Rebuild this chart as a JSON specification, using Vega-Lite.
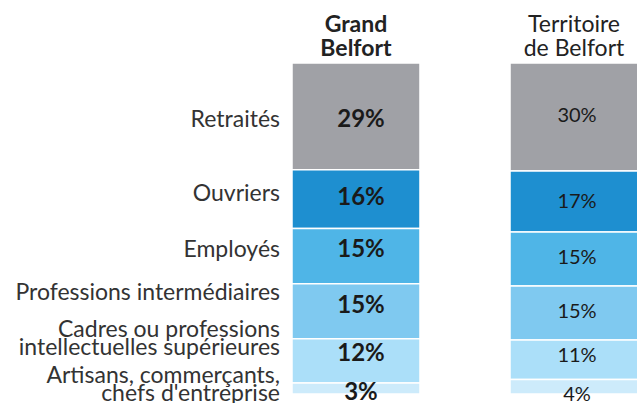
{
  "$schema": "https://vega.github.io/schema/vega-lite/v6.json",
  "width": 637,
  "height": 331,
  "autosize": {"type": "none"},
  "padding": {"left": 0, "top": 63, "right": 0, "bottom": 9},
  "background": "white",
  "config": {"view": {"stroke": null}, "font": "Lato"},
  "data": {
    "values": [
      {"zone": "Grand Belfort", "categorie": "Retraités", "ordre": 6, "valeur": 29},
      {"zone": "Grand Belfort", "categorie": "Ouvriers", "ordre": 5, "valeur": 16},
      {"zone": "Grand Belfort", "categorie": "Employés", "ordre": 4, "valeur": 15},
      {"zone": "Grand Belfort", "categorie": "Professions intermédiaires", "ordre": 3, "valeur": 15},
      {"zone": "Grand Belfort", "categorie": "Cadres ou professions\nintellectuelles supérieures", "ordre": 2, "valeur": 12},
      {"zone": "Grand Belfort", "categorie": "Artisans, commerçants,\nchefs d'entreprise", "ordre": 1, "valeur": 3},
      {"zone": "Territoire de Belfort", "categorie": "Retraités", "ordre": 6, "valeur": 30},
      {"zone": "Territoire de Belfort", "categorie": "Ouvriers", "ordre": 5, "valeur": 17},
      {"zone": "Territoire de Belfort", "categorie": "Employés", "ordre": 4, "valeur": 15},
      {"zone": "Territoire de Belfort", "categorie": "Professions intermédiaires", "ordre": 3, "valeur": 15},
      {"zone": "Territoire de Belfort", "categorie": "Cadres ou professions\nintellectuelles supérieures", "ordre": 2, "valeur": 11},
      {"zone": "Territoire de Belfort", "categorie": "Artisans, commerçants,\nchefs d'entreprise", "ordre": 1, "valeur": 4}
    ]
  },
  "transform": [
    {"stack": "valeur", "groupby": ["zone"], "sort": [{"field": "ordre", "order": "ascending"}], "as": ["v0", "v1"], "offset": "normalize"},
    {"calculate": "(datum.v0 + datum.v1) / 2", "as": "mid"},
    {"calculate": "datum.valeur + '%'", "as": "lab"}
  ],
  "encoding": {
    "x": {
      "field": "zone",
      "type": "nominal",
      "scale": {"domain": ["Grand Belfort", "Territoire de Belfort"], "range": [292, 638], "paddingInner": 0.413, "paddingOuter": 0},
      "axis": {
        "orient": "top",
        "title": null,
        "domain": false,
        "ticks": false,
        "labelAngle": 0,
        "labelFont": "Lato",
        "labelFontSize": 23,
        "labelColor": "#222222",
        "labelLineHeight": 24,
        "labelPadding": 27,
        "labelFontWeight": {"condition": {"test": "datum.value == 'Grand Belfort'", "value": "bold"}, "value": "normal"},
        "labelExpr": "datum.value == 'Grand Belfort' ? ['Grand', 'Belfort'] : ['Territoire', 'de Belfort']"
      }
    }
  },
  "layer": [
    {
      "mark": {"type": "bar", "stroke": "white", "strokeWidth": 1.5},
      "encoding": {
        "y": {"field": "v0", "type": "quantitative", "scale": {"domain": [0, 1]}, "axis": null},
        "y2": {"field": "v1"},
        "color": {
          "field": "ordre",
          "type": "ordinal",
          "scale": {"domain": [1, 2, 3, 4, 5, 6], "range": ["#cdebfb", "#abdff9", "#7fc9f0", "#4fb5e7", "#1e8fd0", "#a0a1a6"]},
          "legend": null
        }
      }
    },
    {
      "transform": [{"filter": "datum.zone == 'Grand Belfort'"}],
      "mark": {"type": "text", "font": "Lato", "fontWeight": "bold", "fontSize": 24, "color": "#1a1a1a", "baseline": "middle", "dx": 5,
        "dy": {"expr": "datum.ordre == 6 ? 4 : datum.ordre == 5 ? -1 : datum.ordre == 4 ? -6 : datum.ordre == 3 ? -5 : datum.ordre == 2 ? -7 : 5"}},
      "encoding": {
        "y": {"field": "mid", "type": "quantitative", "scale": {"domain": [0, 1]}},
        "text": {"field": "lab", "type": "nominal"}
      }
    },
    {
      "transform": [{"filter": "datum.zone == 'Territoire de Belfort'"}],
      "mark": {"type": "text", "font": "Lato", "fontSize": 20, "color": "#1a1a1a", "baseline": "middle", "dx": 3,
        "dy": {"expr": "datum.ordre == 6 ? -1 : datum.ordre == 5 ? 0 : datum.ordre == 4 ? -1 : datum.ordre == 3 ? -1 : datum.ordre == 2 ? -4 : 8"}},
      "encoding": {
        "y": {"field": "mid", "type": "quantitative", "scale": {"domain": [0, 1]}},
        "text": {"field": "lab", "type": "nominal"}
      }
    },
    {
      "transform": [{"filter": "datum.zone == 'Grand Belfort'"}],
      "mark": {"type": "text", "font": "Lato", "fontSize": 23, "color": "#333333", "baseline": "middle", "align": "right", "dx": -12, "lineBreak": "\n", "lineHeight": 18.5,
        "dy": {"expr": "datum.ordre == 6 ? 3.5 : datum.ordre == 5 ? -5.5 : datum.ordre == 4 ? -6 : datum.ordre == 3 ? -18 : datum.ordre == 2 ? -31 : -12.5"}},
      "encoding": {
        "x": {"field": "zone", "type": "nominal", "bandPosition": 0},
        "y": {"field": "mid", "type": "quantitative", "scale": {"domain": [0, 1]}},
        "text": {"field": "categorie", "type": "nominal"}
      }
    }
  ]
}
